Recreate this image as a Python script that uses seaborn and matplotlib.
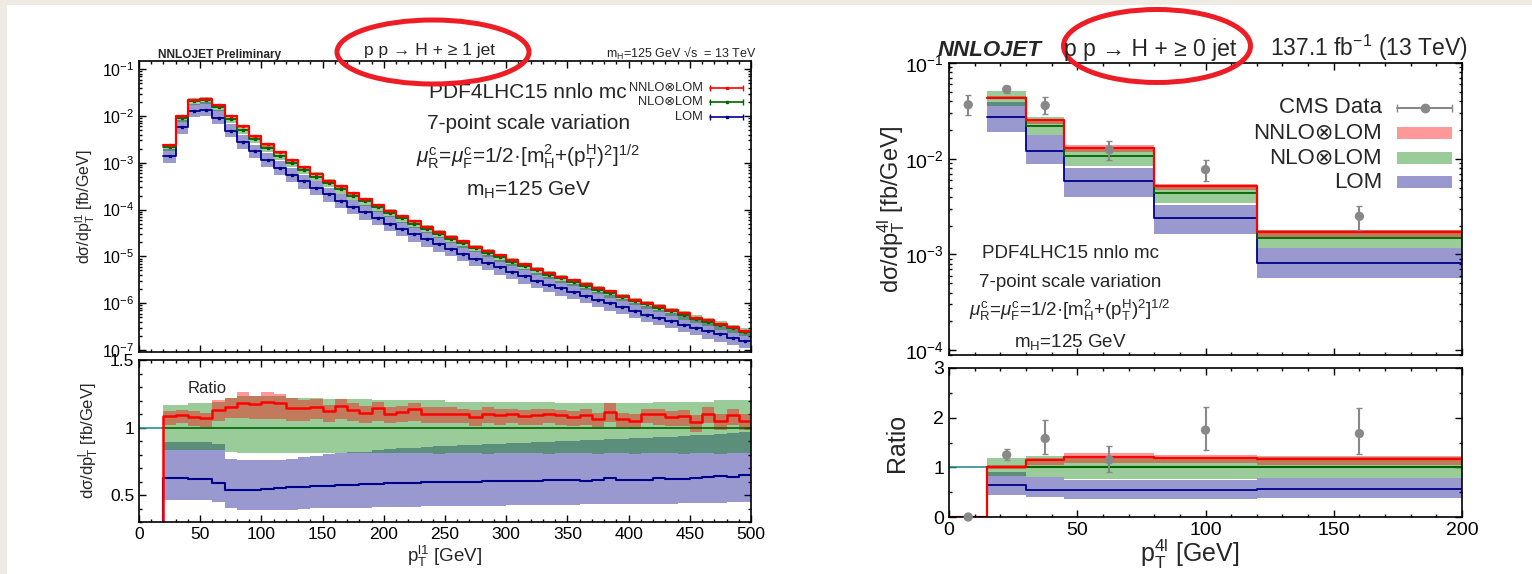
import numpy as np
import pandas as pd
import matplotlib
matplotlib.use("Agg")
import matplotlib.pyplot as plt
import seaborn as sns
from matplotlib.patches import Ellipse, Rectangle
from matplotlib.ticker import LogLocator, MultipleLocator, NullFormatter

# ---------------- left figure: p p -> H + >= 1 jet ----------------
edges_l = list(range(20, 510, 10))

# NLO central value [fb/GeV] per 10 GeV bin
nlo_l = [2.2e-3, 9.2e-3, 2.05e-2, 2.2e-2, 1.53e-2, 8.8e-3, 5.1e-3, 3.25e-3, 2.1e-3, 1.43e-3,
         1.0e-3, 7.1e-4, 5.1e-4, 3.7e-4, 2.7e-4, 2.0e-4, 1.5e-4, 1.12e-4, 8.5e-5, 6.5e-5,
         5.0e-5, 3.9e-5, 3.05e-5, 2.4e-5, 1.9e-5, 1.5e-5, 1.2e-5, 9.6e-6, 7.7e-6, 6.2e-6,
         5.0e-6, 4.1e-6, 3.4e-6, 2.85e-6, 2.35e-6, 1.95e-6, 1.62e-6, 1.35e-6, 1.12e-6, 9.4e-7,
         7.9e-7, 6.7e-7, 5.6e-7, 4.7e-7, 4.0e-7, 3.4e-7, 2.9e-7, 2.45e-7]

# ratios to NLO
nnlo_ratio_l = [1.084, 1.089, 1.077, 1.067, 1.129, 1.149, 1.183, 1.171, 1.188, 1.178,
                1.146, 1.146, 1.150, 1.124, 1.161, 1.129, 1.109, 1.148, 1.100, 1.116,
                1.138, 1.103, 1.103, 1.103, 1.098, 1.079, 1.100, 1.091, 1.100, 1.084,
                1.091, 1.098, 1.089, 1.079, 1.091, 1.066, 1.116, 1.066, 1.049, 1.100,
                1.098, 1.079, 1.084, 1.042, 1.100, 1.049, 1.091, 1.047]
nnlo_lo_l = [1.02, 1.03, 1.01, 1.00, 1.05, 1.07, 1.07, 1.06, 1.06, 1.06,
             1.05, 1.05, 1.06, 1.04, 1.06, 1.05, 1.03, 1.05, 1.03, 1.04,
             1.05, 1.03, 1.03, 1.03, 1.03, 1.01, 1.03, 1.02, 1.03, 1.02,
             1.02, 1.03, 1.02, 1.01, 1.02, 1.00, 1.04, 1.00, 0.99, 1.03,
             1.02, 1.01, 1.01, 0.97, 1.03, 0.98, 1.02, 0.98]
nnlo_hi_l = [1.12, 1.13, 1.12, 1.11, 1.20, 1.22, 1.26, 1.23, 1.26, 1.25,
             1.22, 1.20, 1.21, 1.17, 1.21, 1.18, 1.16, 1.19, 1.15, 1.16,
             1.18, 1.15, 1.15, 1.15, 1.14, 1.13, 1.15, 1.14, 1.14, 1.13,
             1.14, 1.14, 1.13, 1.12, 1.14, 1.11, 1.18, 1.11, 1.10, 1.14,
             1.14, 1.12, 1.13, 1.09, 1.15, 1.10, 1.14, 1.10]
nlo_lo_l = [0.83, 0.83, 0.83, 0.83, 0.83, 0.82, 0.81, 0.81, 0.81, 0.81,
            0.81, 0.81, 0.81, 0.81, 0.81, 0.81, 0.81, 0.81, 0.81, 0.81,
            0.81, 0.81, 0.80, 0.81, 0.81, 0.81, 0.80, 0.81, 0.81, 0.81,
            0.81, 0.80, 0.81, 0.81, 0.81, 0.80, 0.81, 0.81, 0.80, 0.81,
            0.81, 0.81, 0.80, 0.81, 0.81, 0.80, 0.81, 0.81]
nlo_hi_l = [1.17, 1.17, 1.18, 1.18, 1.19, 1.22, 1.23, 1.23, 1.23, 1.23,
            1.22, 1.22, 1.22, 1.21, 1.21, 1.21, 1.21, 1.20, 1.20, 1.20,
            1.20, 1.20, 1.20, 1.19, 1.19, 1.19, 1.19, 1.19, 1.19, 1.19,
            1.19, 1.19, 1.18, 1.18, 1.18, 1.18, 1.18, 1.18, 1.18, 1.18,
            1.19, 1.19, 1.19, 1.19, 1.19, 1.20, 1.20, 1.20]
lom_ratio_l = [0.626, 0.626, 0.616, 0.621, 0.590, 0.540, 0.535, 0.540, 0.547, 0.552,
               0.558, 0.562, 0.566, 0.570, 0.573, 0.577, 0.580, 0.583, 0.586, 0.589,
               0.591, 0.593, 0.595, 0.597, 0.599, 0.600, 0.602, 0.604, 0.606, 0.605,
               0.607, 0.609, 0.608, 0.611, 0.605, 0.609, 0.626, 0.614, 0.612, 0.609,
               0.626, 0.622, 0.620, 0.625, 0.636, 0.641, 0.632, 0.646]
lom_lo_l = [0.46, 0.46, 0.46, 0.46, 0.45, 0.40, 0.386, 0.386, 0.386, 0.39,
            0.39, 0.395, 0.40, 0.40, 0.40, 0.405, 0.405, 0.41, 0.41, 0.41,
            0.41, 0.415, 0.415, 0.415, 0.42, 0.42, 0.42, 0.42, 0.423, 0.423,
            0.425, 0.425, 0.427, 0.427, 0.43, 0.43, 0.43, 0.43, 0.43, 0.432,
            0.435, 0.435, 0.44, 0.44, 0.44, 0.442, 0.445, 0.445]
lom_hi_l = [0.89, 0.89, 0.89, 0.89, 0.88, 0.765, 0.757, 0.757, 0.757, 0.76,
            0.77, 0.78, 0.79, 0.80, 0.81, 0.815, 0.82, 0.83, 0.84, 0.845,
            0.85, 0.855, 0.86, 0.865, 0.87, 0.874, 0.877, 0.88, 0.884, 0.887,
            0.89, 0.893, 0.897, 0.90, 0.905, 0.908, 0.912, 0.915, 0.92, 0.924,
            0.928, 0.932, 0.937, 0.942, 0.948, 0.953, 0.96, 0.966]

# ---------------- right figure: p p -> H + >= 0 jet vs CMS ----------------
edges_r = [0, 15, 30, 45, 80, 120, 200]
nlo_r = [0.0, 4.3e-2, 2.2e-2, 1.075e-2, 4.4e-3, 1.47e-3]
nnlo_ratio_r = [0.0, 1.0, 1.146, 1.2, 1.18, 1.16]
nnlo_lo_r = [0.0, 0.97, 1.05, 1.09, 1.08, 1.045]
nnlo_hi_r = [0.0, 1.04, 1.19, 1.28, 1.25, 1.23]
nlo_lo_r = [0.0, 0.82, 0.81, 0.775, 0.775, 0.795]
nlo_hi_r = [0.0, 1.18, 1.227, 1.227, 1.21, 1.21]
lom_ratio_r = [0.0, 0.64, 0.553, 0.54, 0.54, 0.56]
lom_lo_r = [0.0, 0.44, 0.405, 0.37, 0.37, 0.39]
lom_hi_r = [0.0, 0.91, 0.81, 0.74, 0.74, 0.795]

cms_x = [7.5, 22.5, 37.5, 62.5, 100, 160]
cms_y = [3.66e-2, 5.3e-2, 3.6e-2, 1.24e-2, 7.7e-3, 2.5e-3]
cms_lo = [2.84e-2, 4.9e-2, 2.9e-2, 9.8e-3, 5.9e-3, 1.8e-3]
cms_hi = [4.6e-2, 5.8e-2, 4.4e-2, 1.54e-2, 9.8e-3, 3.2e-3]
cms_ratio = [0.0, 1.25, 1.58, 1.15, 1.75, 1.68]
cms_ratio_lo = [0.0, 1.15, 1.27, 0.90, 1.35, 1.27]
cms_ratio_hi = [0.0, 1.37, 1.95, 1.42, 2.22, 2.20]

RED, GREEN, BLUE = '#ff0000', '#008000', '#00008b'
GREEN_LINE = '#006400'
GREY = '#888888'

sns.set_style("ticks")
plt.rcParams['font.family'] = ['Liberation Sans', 'DejaVu Sans']
plt.rcParams.update({
    'mathtext.fontset': 'custom',
    'mathtext.rm': 'Liberation Sans',
    'mathtext.it': 'Liberation Sans:italic',
    'mathtext.bf': 'Liberation Sans:bold',
    'mathtext.sf': 'Liberation Sans',
    'axes.linewidth': 1.2,
})

W, H = 1532, 574
fig = plt.figure(figsize=(W / 100, H / 100), dpi=100)
fig.patch.set_facecolor('white')
# beige page border of the slide
fig.add_artist(Rectangle((0, 1 - 5 / H), 1, 5 / H, transform=fig.transFigure, color='#eeebe4', lw=0))
fig.add_artist(Rectangle((0, 0), 7 / W, 1, transform=fig.transFigure, color='#eeebe4', lw=0))


def box(x0, y0, x1, y1):
    return [x0 / W, 1 - y1 / H, (x1 - x0) / W, (y1 - y0) / H]


ax_lt = fig.add_axes(box(139, 61, 751, 352))
ax_lb = fig.add_axes(box(139, 360, 751, 522))
ax_rt = fig.add_axes(box(949, 63, 1462, 355))
ax_rb = fig.add_axes(box(949, 368, 1462, 517))


def ext(vals):
    return list(vals) + [vals[-1]]


def band(ax, edges, lo, hi, color):
    ax.fill_between(edges, ext(lo), ext(hi), step='post', color=color, alpha=0.4, lw=0)


def step_line(ax, edges, vals, color, lw):
    df = pd.DataFrame({'x': edges, 'y': ext(vals)})
    sns.lineplot(data=df, x='x', y='y', drawstyle='steps-post', color=color,
                 linewidth=lw, ax=ax, legend=False)


def style(ax, size):
    ax.tick_params(which='both', direction='in', top=True, right=True,
                   labelsize=size, width=1, colors='black')
    ax.tick_params(which='major', length=5)
    ax.tick_params(which='minor', length=2.5)
    for s in ax.spines.values():
        s.set_color('black')


def mul(a, b):
    return [x * y for x, y in zip(a, b)]


# ---------- left top ----------
ax = ax_lt
band(ax, edges_l, mul(nlo_l, lom_lo_l), mul(nlo_l, lom_hi_l), BLUE)
band(ax, edges_l, mul(nlo_l, nlo_lo_l), mul(nlo_l, nlo_hi_l), GREEN)
band(ax, edges_l, mul(nlo_l, nnlo_lo_l), mul(nlo_l, nnlo_hi_l), RED)
centres_l = [e + 5 for e in edges_l[:-1]]
for vals, col, lw in [(mul(nlo_l, lom_ratio_l), BLUE, 1.3), (nlo_l, GREEN_LINE, 1.3),
                      (mul(nlo_l, nnlo_ratio_l), RED, 1.6)]:
    step_line(ax, edges_l, vals, col, lw)
    ax.plot(centres_l, vals, ls='none', marker='s', ms=1.8, color=col)
ax.set_yscale('log')
ax.set_xlim(0, 500)
ax.set_ylim(9.06e-8, 0.150)
ax.yaxis.set_major_locator(LogLocator(base=10, numticks=20))
ax.yaxis.set_minor_locator(LogLocator(base=10, subs=np.arange(2, 10), numticks=20))
ax.yaxis.set_minor_formatter(NullFormatter())
ax.xaxis.set_major_locator(MultipleLocator(50))
ax.xaxis.set_minor_locator(MultipleLocator(10))
ax.set_xticklabels([])
ax.set_xlabel('')
ax.set_ylabel('dσ/dp$_\\mathrm{T}^\\mathrm{l1}$ [fb/GeV]', fontsize=11.5, va='center')
ax.yaxis.set_label_coords(-54 / 612, 0.5)
style(ax, 11.5)

tx = 0.636
ax.text(tx, 0.893, 'PDF4LHC15 nnlo mc', transform=ax.transAxes, ha='center', va='center', fontsize=15)
ax.text(tx, 0.784, '7-point scale variation', transform=ax.transAxes, ha='center', va='center', fontsize=15)
ax.text(tx, 0.670, r'$\mu_\mathrm{R}^\mathrm{c}$=$\mu_\mathrm{F}^\mathrm{c}$=1/2·[m$_\mathrm{H}^\mathrm{2}$+(p$_\mathrm{T}^\mathrm{H}$)$^\mathrm{2}$]$^\mathrm{1/2}$',
        transform=ax.transAxes, ha='center', va='center', fontsize=15)
ax.text(tx, 0.557, 'm$_\\mathrm{H}$=125 GeV', transform=ax.transAxes, ha='center', va='center', fontsize=15)

# legend (errorbar samples on the right)
for lab, col, yy in [('NNLO⊗LOM', RED, 0.907), ('NLO⊗LOM', GREEN_LINE, 0.859), ('LOM', BLUE, 0.808)]:
    ax.text(0.9216, yy, lab, transform=ax.transAxes, ha='right', va='center', fontsize=9.3)
    ax.plot([0.933, 0.987], [yy, yy], transform=ax.transAxes, color=col, lw=1.2,
            marker='|', ms=5, markevery=[0, 1])
    ax.plot([0.96], [yy], transform=ax.transAxes, color=col, marker='s', ms=2)

# ---------- left bottom ----------
ax = ax_lb
band(ax, edges_l, lom_lo_l, lom_hi_l, BLUE)
band(ax, edges_l, nlo_lo_l, nlo_hi_l, GREEN)
band(ax, edges_l, nnlo_lo_l, nnlo_hi_l, RED)
ax.plot([0, 20], [1, 1], color='#2a9090', lw=1.2)
ax.plot([20, 500], [1, 1], color=GREEN_LINE, lw=1.2)
step_line(ax, [0] + edges_l, [0.0] + lom_ratio_l, BLUE, 1.5)
step_line(ax, [0] + edges_l, [0.0] + nnlo_ratio_l, RED, 1.8)
ax.set_xlim(0, 500)
ax.set_ylim(0.3, 1.5)
ax.xaxis.set_major_locator(MultipleLocator(50))
ax.xaxis.set_minor_locator(MultipleLocator(10))
ax.yaxis.set_major_locator(MultipleLocator(0.5))
ax.yaxis.set_minor_locator(MultipleLocator(0.1))
ax.set_yticks([0.5, 1.0, 1.5])
ax.set_yticklabels(['0.5', '1', '1.5'])
ax.set_xlabel('p$_\\mathrm{T}^\\mathrm{l1}$ [GeV]', fontsize=13.5, va='center')
ax.xaxis.set_label_coords(0.5, -0.215)
ax.set_ylabel('dσ/dp$_\\mathrm{T}^\\mathrm{l}$ [fb/GeV]', fontsize=12, va='center')
ax.yaxis.set_label_coords(-50 / 612, 0.5)
ax.text(0.111, 0.827, 'Ratio', transform=ax.transAxes, ha='center', va='center', fontsize=12)
style(ax, 12.5)

# left header
fig.text(158 / W, 1 - 58 / H, 'NNLOJET Preliminary', fontsize=8.6, fontweight='bold', va='baseline')
fig.text(429 / W, 1 - 55 / H, 'p p → H + ≥ 1 jet', fontsize=12.5, ha='center', va='baseline')
fig.text(756 / W, 1 - 58 / H, 'm$_\\mathrm{H}$=125 GeV √s  = 13 TeV', fontsize=9, ha='right', va='baseline')

# ---------- right top ----------
ax = ax_rt
e_top = edges_r[1:]
band(ax, e_top, mul(nlo_r[1:], lom_lo_r[1:]), mul(nlo_r[1:], lom_hi_r[1:]), BLUE)
band(ax, e_top, mul(nlo_r[1:], nlo_lo_r[1:]), mul(nlo_r[1:], nlo_hi_r[1:]), GREEN)
band(ax, e_top, mul(nlo_r[1:], nnlo_lo_r[1:]), mul(nlo_r[1:], nnlo_hi_r[1:]), RED)
step_line(ax, e_top, mul(nlo_r[1:], lom_ratio_r[1:]), BLUE, 1.3)
step_line(ax, e_top, nlo_r[1:], GREEN_LINE, 1.3)
step_line(ax, e_top, mul(nlo_r[1:], nnlo_ratio_r[1:]), RED, 1.6)
ax.errorbar(cms_x, cms_y, yerr=[np.subtract(cms_y, cms_lo), np.subtract(cms_hi, cms_y)],
            fmt='none', ecolor=GREY, elinewidth=1.5, capsize=2.5)
sns.scatterplot(x=cms_x, y=cms_y, color=GREY, s=45, edgecolor='none', ax=ax, zorder=5)
ax.set_yscale('log')
ax.set_xlim(0, 200)
ax.set_ylim(8.9e-5, 0.1)
ax.yaxis.set_major_locator(LogLocator(base=10, numticks=20))
ax.yaxis.set_minor_locator(LogLocator(base=10, subs=np.arange(2, 10), numticks=20))
ax.yaxis.set_minor_formatter(NullFormatter())
ax.xaxis.set_major_locator(MultipleLocator(50))
ax.xaxis.set_minor_locator(MultipleLocator(10))
ax.set_xticklabels([])
ax.set_ylabel('dσ/dp$_\\mathrm{T}^\\mathrm{4l}$ [fb/GeV]', fontsize=17, va='center')
ax.yaxis.set_label_coords(-58 / 513, 0.5)
style(ax, 14)

tx = 0.236
ax.text(tx, 0.349, 'PDF4LHC15 nnlo mc', transform=ax.transAxes, ha='center', va='center', fontsize=13.5)
ax.text(tx, 0.247, '7-point scale variation', transform=ax.transAxes, ha='center', va='center', fontsize=13.5)
ax.text(tx, 0.154, r'$\mu_\mathrm{R}^\mathrm{c}$=$\mu_\mathrm{F}^\mathrm{c}$=1/2·[m$_\mathrm{H}^\mathrm{2}$+(p$_\mathrm{T}^\mathrm{H}$)$^\mathrm{2}$]$^\mathrm{1/2}$',
        transform=ax.transAxes, ha='center', va='center', fontsize=13.5)
ax.text(tx, 0.0445, 'm$_\\mathrm{H}$=125 GeV', transform=ax.transAxes, ha='center', va='center', fontsize=13.5)

# legend
ax.text(0.844, 0.846, 'CMS Data', transform=ax.transAxes, ha='right', va='center', fontsize=16)
ax.plot([0.873, 0.981], [0.846, 0.846], transform=ax.transAxes, color=GREY, lw=1.5,
        marker='|', ms=6, markevery=[0, 1])
ax.plot([0.927], [0.846], transform=ax.transAxes, color=GREY, marker='o', ms=6)
for lab, col, yy in [('NNLO⊗LOM', RED, 0.760), ('NLO⊗LOM', GREEN, 0.675), ('LOM', BLUE, 0.592)]:
    ax.text(0.844, yy, lab, transform=ax.transAxes, ha='right', va='center', fontsize=16)
    ax.add_patch(Rectangle((0.873, yy - 0.021), 0.108, 0.042, transform=ax.transAxes,
                           color=col, alpha=0.4, lw=0))

# ---------- right bottom ----------
ax = ax_rb
band(ax, edges_r, lom_lo_r, lom_hi_r, BLUE)
band(ax, edges_r, nlo_lo_r, nlo_hi_r, GREEN)
band(ax, edges_r, nnlo_lo_r, nnlo_hi_r, RED)
ax.plot([0, 15], [1, 1], color='#2a9090', lw=1.2)
ax.plot([15, 200], [1, 1], color=GREEN_LINE, lw=1.5)
step_line(ax, edges_r, lom_ratio_r, BLUE, 1.3)
step_line(ax, edges_r, nnlo_ratio_r, RED, 1.6)
ax.errorbar(cms_x, cms_ratio, yerr=[np.subtract(cms_ratio, cms_ratio_lo), np.subtract(cms_ratio_hi, cms_ratio)],
            fmt='none', ecolor=GREY, elinewidth=1.5, capsize=2.5)
sns.scatterplot(x=cms_x, y=cms_ratio, color=GREY, s=45, edgecolor='none', ax=ax, zorder=5, clip_on=False)
ax.set_xlim(0, 200)
ax.set_ylim(0, 3)
ax.xaxis.set_major_locator(MultipleLocator(50))
ax.xaxis.set_minor_locator(MultipleLocator(10))
ax.yaxis.set_major_locator(MultipleLocator(1))
ax.yaxis.set_minor_locator(MultipleLocator(0.5))
ax.set_xlabel('p$_\\mathrm{T}^\\mathrm{4l}$ [GeV]', fontsize=18, va='center')
ax.xaxis.set_label_coords(0.47, -0.245)
ax.set_ylabel('Ratio', fontsize=18, va='center')
ax.yaxis.set_label_coords(-52 / 513, 0.5)
style(ax, 14)

# right header
fig.text(938 / W, 1 - 56 / H, 'NNLOJET', fontsize=16, fontweight='bold', fontstyle='italic', va='baseline')
fig.text(1150 / W, 1 - 56 / H, 'p p → H + ≥ 0 jet', fontsize=16.5, ha='center', va='baseline')
fig.text(1468 / W, 1 - 56 / H, '137.1 fb$^{-1}$ (13 TeV)', fontsize=16.5, ha='right', va='baseline')

# red highlight ellipses
fig.add_artist(Ellipse((433 / W, 1 - 52 / H), 192 / W, 64 / H, transform=fig.transFigure,
                       fill=False, ec='#ee1c25', lw=3.6))
fig.add_artist(Ellipse((1157 / W, 1 - 46 / H), 187 / W, 73 / H, transform=fig.transFigure,
                       fill=False, ec='#ee1c25', lw=3.6))

fig.savefig('out.png', dpi=100)
